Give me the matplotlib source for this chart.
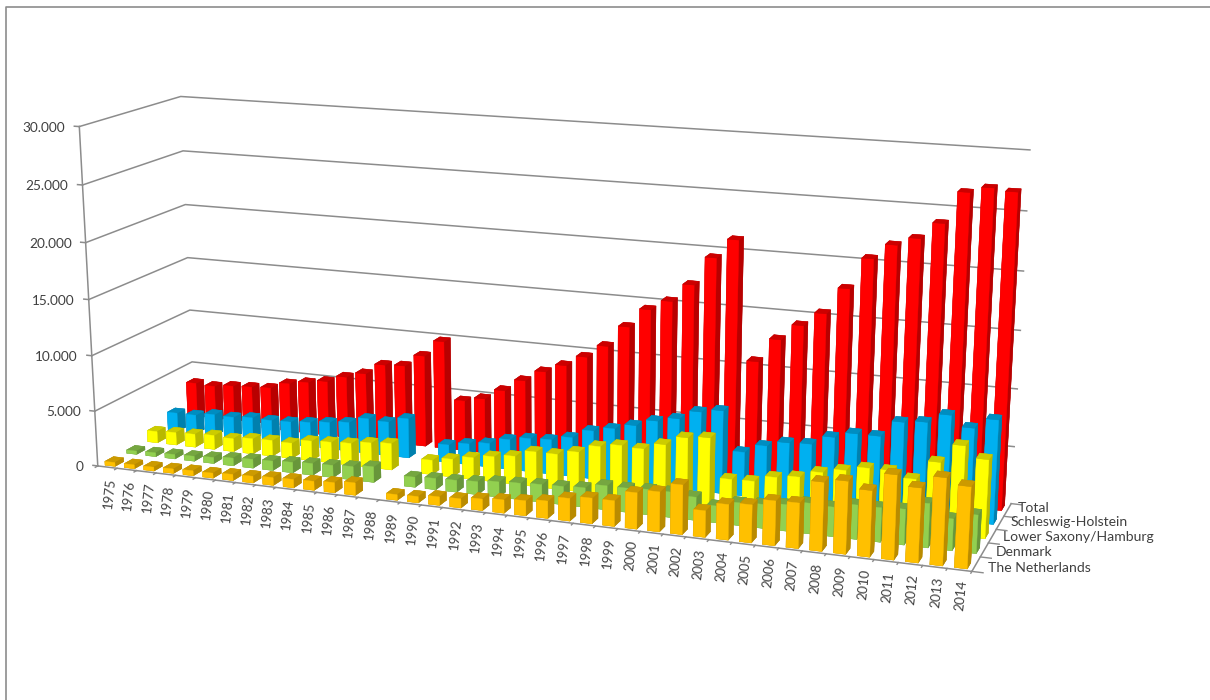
import numpy as np
import matplotlib
matplotlib.use("Agg")
import matplotlib.pyplot as plt
from matplotlib.lines import Line2D

plt.rcParams['font.family'] = ['Lato', 'DejaVu Sans']

years = list(range(1975, 2015))
series_names = ['The Netherlands', 'Denmark', 'Lower Saxony/Hamburg', 'Schleswig-Holstein', 'Total']
z_ticks = [0, 5000, 10000, 15000, 20000, 25000, 30000]

netherlands = [350, 350, 350, 400, 450, 450, 550, 600, 700, 750, 800, 900, 1100, 0,
               500, 550, 750, 800, 1000, 1150, 1300, 1500, 1950, 2200, 2200, 3100, 3400, 4200,
               2250, 3000, 3200, 3750, 3800, 5750, 6050, 5500, 7000, 6150, 7200, 6700]
denmark = [300, 350, 400, 450, 550, 700, 800, 850, 950, 1050, 1100, 1200, 1400, 0,
           900, 1000, 1050, 1150, 1350, 1450, 1550, 1600, 1700, 2100, 2100, 2200, 2200, 2000,
           1450, 1950, 2050, 2250, 2600, 2500, 2900, 2900, 3000, 3700, 2650, 3200]
lower_saxony = [1050, 1150, 1200, 1300, 1200, 1400, 1450, 1400, 1800, 1900, 2000, 2250, 2400, 0,
                1300, 1600, 1950, 2250, 2500, 3100, 3100, 3500, 4200, 4500, 4400, 5000, 5800, 6000,
                2600, 2650, 3200, 3450, 4050, 4450, 4850, 4850, 4350, 6000, 7600, 6650]
schleswig = [1750, 1750, 2000, 1950, 2100, 2050, 2100, 2250, 2450, 2650, 3200, 3100, 3600, 0,
             1600, 1900, 2150, 2700, 3000, 3100, 3500, 4300, 4700, 5200, 5800, 6200, 7000, 7300,
             3850, 4600, 5100, 5200, 6000, 6500, 6500, 7900, 8100, 8900, 8000, 8900]
total = [3600, 3500, 3700, 3800, 3900, 4500, 4800, 5100, 5700, 6200, 7200, 7300, 8400, 9900,
         4600, 5000, 5950, 7050, 8050, 8800, 9750, 10900, 12800, 14500, 15400, 17000, 19500, 21200,
         10800, 12900, 14300, 15500, 17800, 20500, 21800, 22500, 23900, 26600, 27100, 26900]
all_values = [netherlands, denmark, lower_saxony, schleswig, total]

# front, side, top
bar_colors = [('#FFC000', '#B98B00', '#CC9A00'),
              ('#92D050', '#68963A', '#75A640'),
              ('#FFFF00', '#B8B800', '#CCCC00'),
              ('#00B0F0', '#0080AE', '#008DC0'),
              ('#FF0000', '#B80000', '#CC0000')]
grey = '#8C8C8C'
text_col = '#404040'

nx = len(years)
ny = len(series_names)
zmax = z_ticks[-1]

# camera: the box corners as they sit in the picture (pixels, y down)
box_pts = np.array([[0, 0, 0], [0, 0, 1], [0, 1, 0], [0, 1, 1],
                    [1, 1, 0], [1, 1, 1], [1, 0, 0]], dtype=float)
pix_pts = np.array([[97, 465], [80, 127], [195, 414], [180, 96],
                    [1011, 503], [1030, 150], [972, 572]], dtype=float)


def fit_camera(pts, pix):
    rows = []
    for (x, y, z), (u, v) in zip(pts, pix):
        p = [x, y, z, 1]
        rows.append(p + [0, 0, 0, 0] + [-u * c for c in p])
        rows.append([0, 0, 0, 0] + p + [-v * c for c in p])
    h = np.linalg.svd(np.array(rows))[2][-1].reshape(3, 4)
    if h[2, 3] < 0:
        h = -h
    return h @ np.diag([1 / nx, 1 / ny, 1 / zmax, 1])


H = fit_camera(box_pts, pix_pts)


def to_pixels(x, y, z):
    u, v, w = H @ np.array([x, y, z, 1.0])
    return u / w, v / w


fig = plt.figure(figsize=(12.1, 7), dpi=100)
# square axes that covers the figure, 3d axes are always square
ax = fig.add_axes([0, (700 - 1210) / 2 / 700, 1, 1210 / 700], projection='3d', computed_zorder=False)
ax.set_axis_off()
ax.set_proj_type('ortho')  # only so Line3D does not mask points, get_proj is replaced below


def fixed_proj():
    px_to_disp = np.array([[1, 0, 0], [0, -1, 700], [0, 0, 1]], dtype=float)
    P = ax.transData.inverted().get_matrix() @ px_to_disp @ H
    depth = P[2] - np.array([0, 0, 0, 0.5 * H[2, 3]])
    return np.array([P[0], P[1], depth, P[2]])


ax.get_proj = fixed_proj

# walls
for z in z_ticks[1:]:
    ax.plot([0, 0, nx], [0, ny, ny], [z, z, z], color=grey, lw=1.1, zorder=1)
    ax.plot([-0.25, 0], [0, 0], [z, z], color=grey, lw=1.1, zorder=1)
ax.plot([-0.25, 0], [0, 0], [0, 0], color=grey, lw=1.1, zorder=1)
ax.plot([0, 0], [0, 0], [0, zmax], color=grey, lw=1.1, zorder=1)
ax.plot([0, nx, nx], [0, 0, ny], [0, 0, 0], color=grey, lw=1.1, zorder=1)
for i in range(nx + 1):
    ax.plot([i, i], [0, -0.12], [0, 0], color=grey, lw=1, zorder=1)
for r in range(ny + 1):
    ax.plot([nx, nx + 0.45], [r, r], [0, 0], color=grey, lw=1, zorder=1)

# bars, back row first and left to right
order = 10
for r in range(ny - 1, -1, -1):
    front, side, top = bar_colors[r]
    for i in range(nx):
        v = all_values[r][i]
        if v == 0:
            continue
        # face order of bar3d: bottom, top, front, back, left, right
        faces = [side, top, front, side, side, side]
        ax.bar3d(i + 0.25, 0.12 + r * 1.07, 0, 0.52, 0.42, v, color=faces, shade=False,
                 edgecolor=faces, linewidth=0.3, zorder=order)
        order += 1


def px_text(px, py, s, **kw):
    fig.text(px / 1210, 1 - py / 700, s, color=text_col, **kw)


for z in z_ticks:
    px, py = to_pixels(0, 0, z)
    px_text(px - 14, py + 1, f'{z:,}'.replace(',', '.'), ha='right', va='center', fontsize=9.8)
for i, y in enumerate(years):
    px, py = to_pixels(i + 0.5, 0, 0)
    px_text(px + 3.5, py + 10.5, str(y), rotation=84, rotation_mode='anchor', ha='right', va='center',
            fontsize=9.5)
for r, name in enumerate(series_names):
    px, py = to_pixels(nx, r + 0.5, 0)
    px_text(px + 12 - 0.5 * r, py + 4 - 1.5 * r, name, ha='left', va='center', fontsize=10.1)

# chart area border
fig.add_artist(Line2D([6 / 1210, 6 / 1210, 1], [0, 1 - 6.5 / 700, 1 - 6.5 / 700], color=grey, lw=1.2))

fig.savefig('out.png', dpi=100)
